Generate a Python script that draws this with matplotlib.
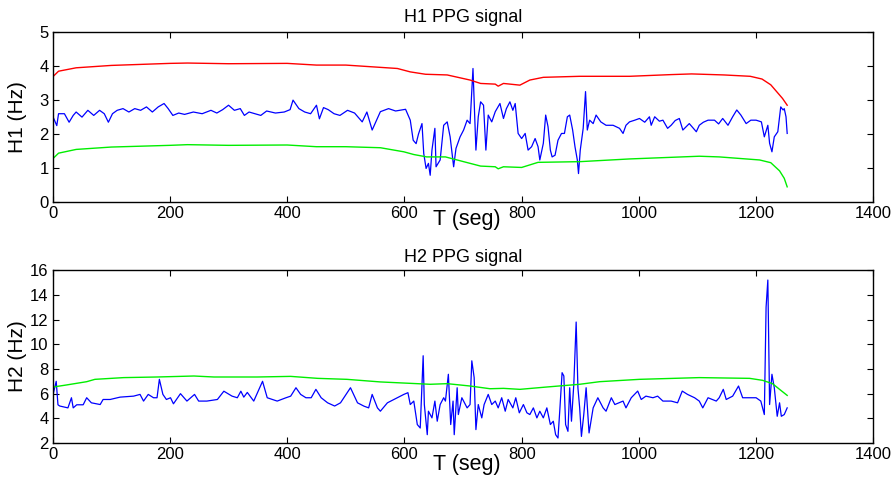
import matplotlib
matplotlib.use("Agg")
from matplotlib import pyplot as plt

plt.rcParams['font.family'] = ['Liberation Sans', 'DejaVu Sans']

# ---- H1: blue signal, red upper bound, green lower bound ----
t_h1 = [0, 7, 10, 20, 28, 35, 40, 50, 60, 70, 80, 88, 95, 102, 110, 120, 130, 140,
        150, 160, 170, 180, 190, 197, 205, 215, 225, 240, 255, 270, 280, 290, 300, 310,
        320, 327, 335, 345, 355, 365, 380, 395, 405, 410, 420, 430, 440, 450, 455, 462,
        470, 480, 490, 503, 515, 528, 536, 545, 559, 573, 585, 602, 610, 615, 620, 624,
        630, 633, 637, 641, 644, 647, 652, 654, 661, 667, 673, 678, 684, 688, 695, 701,
        707, 712, 717, 720, 722, 726, 730, 735, 739, 743, 749, 755, 763, 769, 774, 780,
        785, 789, 794, 800, 806, 811, 817, 823, 828, 831, 837, 841, 845, 849, 852, 857,
        862, 868, 873, 878, 882, 887, 891, 895, 897, 900, 905, 909, 912, 916, 922, 927,
        935, 944, 956, 967, 973, 978, 984, 993, 1001, 1010, 1018, 1021, 1027, 1035, 1041,
        1049, 1055, 1062, 1069, 1075, 1086, 1098, 1103, 1110, 1118, 1129, 1136, 1143,
        1152, 1160, 1167, 1174, 1183, 1191, 1200, 1209, 1214, 1220, 1223, 1227, 1231,
        1237, 1242, 1246, 1248, 1251, 1253]
h1_blue = [2.53, 2.25, 2.6, 2.6, 2.35, 2.55, 2.65, 2.5, 2.7, 2.55, 2.7, 2.6, 2.35, 2.6,
           2.7, 2.75, 2.65, 2.75, 2.7, 2.8, 2.65, 2.8, 2.9, 2.75, 2.55, 2.62, 2.58, 2.65,
           2.6, 2.7, 2.62, 2.72, 2.85, 2.7, 2.75, 2.55, 2.65, 2.6, 2.55, 2.68, 2.62, 2.65,
           2.72, 3.0, 2.75, 2.65, 2.6, 2.85, 2.45, 2.78, 2.72, 2.6, 2.55, 2.7, 2.62, 2.36,
           2.65, 2.12, 2.66, 2.75, 2.68, 2.73, 2.41, 1.82, 1.72, 2.0, 2.31, 1.43, 0.99, 1.14,
           0.79, 1.53, 2.17, 1.04, 1.24, 2.26, 2.36, 1.92, 1.04, 1.58, 1.92, 2.12, 2.41,
           2.31, 3.93, 2.51, 1.53, 2.51, 2.95, 2.85, 1.53, 2.56, 2.36, 2.66, 2.9, 2.46,
           2.75, 2.95, 2.7, 2.9, 2.02, 1.87, 2.02, 1.53, 1.63, 1.87, 1.63, 1.24, 1.73,
           2.56, 2.22, 1.53, 1.33, 1.38, 1.82, 2.02, 2.02, 2.51, 2.56, 2.12, 1.63, 1.24,
           0.84, 1.53, 2.17, 3.25, 2.12, 2.41, 2.31, 2.56, 2.36, 2.26, 2.26, 2.17, 2.02,
           2.26, 2.36, 2.41, 2.46, 2.35, 2.51, 2.26, 2.51, 2.38, 2.41, 2.17, 2.26, 2.4,
           2.46, 2.12, 2.31, 2.07, 2.26, 2.35, 2.41, 2.41, 2.3, 2.46, 2.26, 2.51, 2.71,
           2.56, 2.31, 2.41, 2.41, 2.36, 1.92, 2.26, 1.73, 1.48, 1.92, 2.07, 2.8, 2.71,
           2.75, 2.51, 2.02]

t_h1_red = [0, 1, 10, 40, 100, 150, 200, 230, 300, 400, 450, 500, 588, 610, 636, 673,
            712, 730, 755, 760, 769, 797, 814, 837, 899, 984, 1055, 1090, 1145, 1190,
            1210, 1225, 1235, 1245, 1253]
h1_red = [2.5, 3.7, 3.85, 3.95, 4.02, 4.05, 4.08, 4.09, 4.07, 4.08, 4.03, 4.03, 3.93,
          3.83, 3.76, 3.74, 3.59, 3.49, 3.47, 3.41, 3.49, 3.44, 3.59, 3.67, 3.7, 3.7,
          3.75, 3.77, 3.74, 3.7, 3.62, 3.45, 3.25, 3.05, 2.85]

t_h1_green = [0, 1, 10, 40, 100, 200, 230, 300, 400, 450, 500, 559, 599, 616, 638, 670,
              701, 730, 755, 760, 769, 800, 828, 899, 984, 1103, 1137, 1206, 1225, 1240,
              1248, 1253]
h1_green = [0.0, 1.29, 1.44, 1.55, 1.62, 1.67, 1.69, 1.67, 1.68, 1.63, 1.63, 1.6, 1.48,
            1.4, 1.33, 1.33, 1.19, 1.06, 1.04, 0.98, 1.04, 1.02, 1.17, 1.19, 1.27, 1.35,
            1.33, 1.24, 1.16, 0.92, 0.7, 0.45]

# ---- H2: blue signal, green upper bound ----
t_h2 = [0, 6, 9, 12, 26, 32, 35, 41, 52, 58, 66, 81, 86, 98, 115, 138, 149, 155, 163,
        172, 178, 182, 188, 194, 201, 206, 218, 229, 242, 249, 263, 281, 292, 306, 315,
        321, 326, 332, 343, 358, 366, 383, 398, 406, 415, 423, 432, 441, 449, 458, 469,
        481, 491, 508, 520, 531, 539, 545, 554, 559, 571, 588, 599, 606, 610, 616, 622,
        627, 632, 634, 639, 641, 647, 652, 656, 661, 667, 670, 675, 679, 683, 685, 690,
        692, 698, 707, 712, 715, 719, 722, 726, 732, 736, 743, 749, 755, 760, 766, 772,
        777, 785, 790, 796, 803, 809, 814, 820, 826, 831, 837, 843, 849, 854, 858, 862,
        865, 869, 872, 875, 879, 882, 885, 889, 893, 896, 899, 902, 906, 910, 915, 922,
        930, 939, 944, 953, 959, 973, 978, 987, 998, 1004, 1012, 1024, 1032, 1041, 1055,
        1066, 1074, 1083, 1095, 1103, 1109, 1118, 1132, 1137, 1144, 1149, 1160, 1170,
        1177, 1189, 1200, 1208, 1214, 1217, 1220, 1223, 1227, 1231, 1236, 1240, 1243,
        1248, 1253]
h2_blue = [5.8, 7.0, 5.1, 5.0, 4.85, 5.67, 4.85, 5.1, 5.1, 5.67, 5.26, 5.12, 5.53, 5.53,
           5.72, 5.8, 5.94, 5.4, 5.94, 5.67, 5.67, 7.16, 5.94, 5.53, 5.67, 5.18, 6.0, 5.4,
           5.94, 5.4, 5.4, 5.53, 6.2, 5.8, 5.67, 6.2, 5.72, 6.1, 5.4, 7.0, 5.67, 5.4, 5.67,
           5.8, 6.48, 5.94, 5.67, 5.67, 6.35, 5.67, 5.26, 5.0, 5.26, 6.48, 5.26, 4.99, 4.85,
           5.94, 4.85, 4.58, 5.26, 5.67, 5.94, 6.08, 5.12, 5.4, 3.5, 3.22, 9.07, 5.12, 2.68,
           4.58, 4.04, 5.4, 3.77, 5.12, 5.67, 5.4, 7.57, 3.5, 5.4, 2.68, 6.48, 4.31, 5.67,
           4.85, 5.12, 8.66, 7.3, 3.09, 5.12, 4.04, 5.12, 5.94, 5.12, 5.4, 4.85, 5.67, 4.58,
           5.53, 4.85, 5.67, 4.45, 5.12, 4.45, 4.31, 4.85, 4.04, 4.58, 4.04, 4.85, 3.5,
           3.77, 2.68, 2.41, 4.58, 7.7, 7.43, 3.5, 2.95, 6.48, 3.77, 6.76, 11.8, 6.48, 4.85,
           2.54, 4.31, 6.48, 2.82, 4.85, 5.67, 4.85, 4.58, 5.67, 5.12, 5.4, 4.85, 5.67,
           6.21, 5.53, 5.8, 5.67, 5.8, 5.4, 5.4, 5.26, 6.21, 5.94, 5.67, 5.4, 4.85, 5.67,
           5.4, 5.67, 6.35, 5.53, 5.8, 6.62, 5.67, 5.67, 5.67, 5.4, 4.31, 13.0, 15.2, 5.12,
           7.57, 6.48, 4.17, 5.26, 4.17, 4.31, 4.85]

t_h2_green = [0, 1, 23, 58, 72, 121, 178, 241, 275, 349, 406, 452, 502, 559, 644, 673,
              712, 746, 769, 797, 843, 899, 933, 1001, 1103, 1189, 1211, 1228, 1240, 1253]
h2_green = [4.04, 6.54, 6.7, 6.97, 7.16, 7.3, 7.35, 7.43, 7.35, 7.35, 7.4, 7.24, 7.16,
            6.95, 6.76, 6.81, 6.62, 6.4, 6.43, 6.35, 6.54, 6.76, 6.97, 7.16, 7.3, 7.24,
            7.08, 6.81, 6.35, 5.86]

green = '#00ee00'

fig = plt.figure(figsize=(8.93, 4.79), dpi=100)
ax1 = fig.add_axes([0.059, 0.578, 0.919, 0.355])
ax2 = fig.add_axes([0.059, 0.075, 0.919, 0.361])

ax1.plot(t_h1, h1_blue, "-", color='b', linewidth=0.9)
ax1.plot(t_h1_red, h1_red, "-", color='r', linewidth=1.0)
ax1.plot(t_h1_green, h1_green, "-", color=green, linewidth=1.0)
ax1.set_xlim(0, 1400)
ax1.set_ylim(0, 5)
ax1.set_title("H1 PPG signal", fontsize=13, pad=7)
ax1.set_xlabel("T (seg)", fontsize=15.5, va='top')
ax1.xaxis.set_label_coords(0.505, -0.04)
ax1.set_ylabel("H1 (Hz)", fontsize=15)
ax1.yaxis.set_label_coords(-0.031, 0.5)

ax2.plot(t_h2, h2_blue, "-", color='b', linewidth=0.9)
ax2.plot(t_h2_green, h2_green, "-", color=green, linewidth=1.0)
ax2.set_xlim(0, 1400)
ax2.set_ylim(2, 16)
ax2.set_yticks([2, 4, 6, 8, 10, 12, 14, 16])
ax2.set_title("H2 PPG signal", fontsize=13, pad=6)
ax2.set_xlabel("T (seg)", fontsize=15.5, va='top')
ax2.xaxis.set_label_coords(0.505, -0.065)
ax2.set_ylabel("H2 (Hz)", fontsize=15)
ax2.yaxis.set_label_coords(-0.031, 0.5)

for ax in (ax1, ax2):
    ax.tick_params(direction='in', top=True, right=True, labelsize=12, length=4, pad=3)
    for s in ax.spines.values():
        s.set_linewidth(1.0)

plt.savefig("out.png", dpi=100)
